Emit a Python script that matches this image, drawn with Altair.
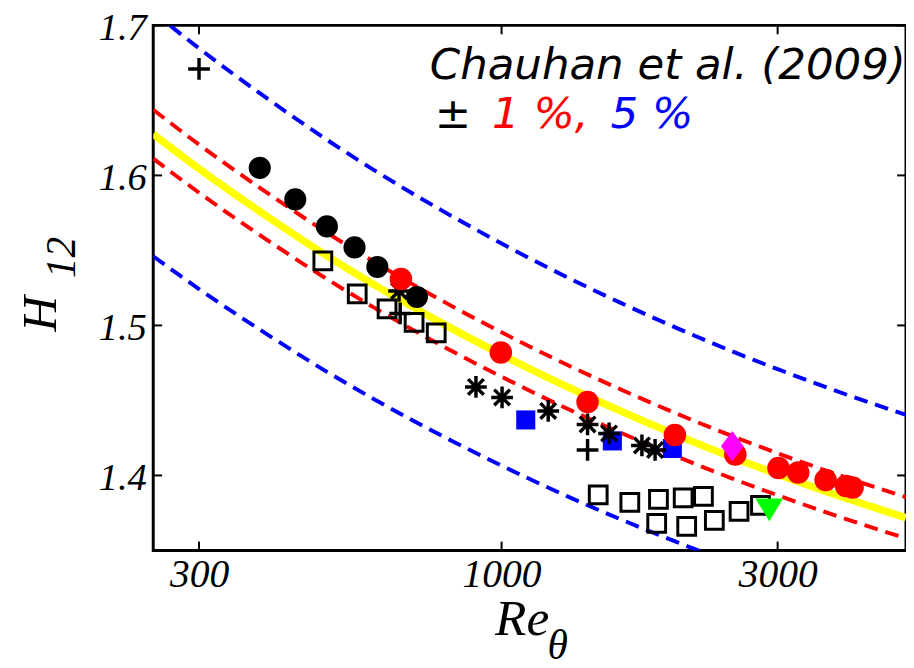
import altair as alt
import pandas as pd

# ---- data ----
# Chauhan et al. (2009) correlation (yellow curve)
curve_re = [250, 300, 400, 500, 600, 800, 1000, 1300, 1600, 2000, 2500, 3000, 4000, 5000]
curve_h = [1.6275, 1.6045, 1.5708, 1.5462, 1.5275, 1.5002, 1.4806, 1.4590, 1.4432,
           1.4272, 1.4122, 1.4008, 1.3839, 1.3718]
band_inner = 0.01   # +-1 %
band_outer = 0.05   # +-5 %

circ_black_re = [382, 440, 499, 557, 610, 714]
circ_black_h = [1.605, 1.584, 1.566, 1.552, 1.539, 1.519]

circ_red_re = [670, 997, 1408, 1993, 2535, 3010, 3256, 3631, 3939, 4042]
circ_red_h = [1.531, 1.482, 1.449, 1.427, 1.414, 1.405, 1.402, 1.397, 1.393, 1.392]

sq_open_re = [491, 563, 634, 706, 771, 1469, 1666, 1867, 2060, 2233, 1854, 2089, 2332, 2573, 2802]
sq_open_h = [1.543, 1.521, 1.511, 1.502, 1.495, 1.387, 1.382, 1.384, 1.385, 1.386, 1.368, 1.366, 1.370, 1.376, 1.380]

sq_blue_re = [1101, 1554, 1973]
sq_blue_h = [1.437, 1.423, 1.418]

star_re = [665, 903, 1002, 1204, 1408, 1534, 1748, 1842]
star_h = [1.523, 1.459, 1.452, 1.443, 1.434, 1.428, 1.420, 1.417]

plus_re = [300, 668, 1408]
plus_h = [1.671, 1.508, 1.417]

diamond_re = [2505]
diamond_h = [1.4195]

tri_re = [2902]
tri_h = [1.377]

x_ticks = [300, 1000, 3000]
y_ticks = [1.4, 1.5, 1.6, 1.7]

# ---- chart ----
W, H = 762, 531.5
TICK = 9
xs = alt.Scale(type="log", domain=[250, 5000], nice=False)
ys = alt.Scale(domain=[1.35, 1.7], nice=False, zero=False)

def df(re, h):
    return pd.DataFrame({"Re": re, "H": h})

lab_common = dict(labelFont="Liberation Serif", labelFontStyle="italic",
                  labelColor="black", labelFlush=False,
                  labelOverlap=False, labelBound=False, tickSize=0,
                  domain=False, grid=False, title=None)

ax_bottom = alt.Axis(orient="bottom", values=x_ticks, format="d", labelPadding=4,
                     labelFontSize=40, **lab_common)
ax_left = alt.Axis(orient="left", values=y_ticks, format=".1f", labelPadding=7,
                   labelFontSize=39, labelOffset=2, **lab_common)

def line(re, h, color, width, dash=None, axes=None):
    kw = dict(color=color, strokeWidth=width, clip=True, interpolate="monotone")
    if dash:
        kw["strokeDash"] = dash
        kw["strokeCap"] = "butt"
    ax_x, ax_y = axes if axes else (None, None)
    return alt.Chart(df(re, h)).mark_line(**kw).encode(
        x=alt.X("Re:Q", scale=xs, axis=ax_x),
        y=alt.Y("H:Q", scale=ys, axis=ax_y),
        order="Re:Q",
    )

def pts(re, h, **mk):
    return alt.Chart(df(re, h)).mark_point(opacity=1, **mk).encode(
        x=alt.X("Re:Q", scale=xs, axis=None),
        y=alt.Y("H:Q", scale=ys, axis=None),
    )

up5 = [v * (1 + band_outer) for v in curve_h]
lo5 = [v * (1 - band_outer) for v in curve_h]
up1 = [v * (1 + band_inner) for v in curve_h]
lo1 = [v * (1 - band_inner) for v in curve_h]

dash = [14, 8]
layers = [
    line(curve_re, up5, "#0000FF", 4, dash),
    line(curve_re, lo5, "#0000FF", 4, dash),
    line(curve_re, up1, "#FF0000", 4, dash),
    line(curve_re, lo1, "#FF0000", 4, dash),
    line(curve_re, curve_h, "#FFFF00", 7.5, axes=(ax_bottom, ax_left)),
]

# inward ticks on all four sides
xt = pd.DataFrame({"Re": x_ticks})
yt = pd.DataFrame({"H": y_ticks})
rule_kw = dict(color="black", strokeWidth=2)
layers += [
    alt.Chart(xt).mark_rule(**rule_kw).encode(
        x=alt.X("Re:Q", scale=xs, axis=None), y=alt.value(H - TICK), y2=alt.value(H)),
    alt.Chart(xt).mark_rule(**rule_kw).encode(
        x=alt.X("Re:Q", scale=xs, axis=None), y=alt.value(0), y2=alt.value(TICK)),
    alt.Chart(yt).mark_rule(**rule_kw).encode(
        y=alt.Y("H:Q", scale=ys, axis=None), x=alt.value(0), x2=alt.value(TICK)),
    alt.Chart(yt).mark_rule(**rule_kw).encode(
        y=alt.Y("H:Q", scale=ys, axis=None), x=alt.value(W - TICK), x2=alt.value(W)),
]

asterisk = "M-1,0L1,0M0,-1L0,1M-0.72,-0.72L0.72,0.72M-0.72,0.72L0.72,-0.72"
plus = "M-1,0L1,0M0,-1L0,1"
diamond = "M0,-1L0.74,0L0,1L-0.74,0Z"
tri_down = "M-1,-0.82L1,-0.82L0,0.82Z"

layers += [
    pts(sq_open_re, sq_open_h, shape="square", filled=False, size=324,
        strokeWidth=3, color="black"),
    pts(sq_blue_re, sq_blue_h, shape="square", filled=True, size=372,
        color="#0000FF"),
    pts(star_re, star_h, shape=asterisk, filled=False, size=484,
        strokeWidth=3.5, color="black"),
    pts(circ_black_re, circ_black_h, shape="circle", filled=True, size=500,
        color="black"),
    pts(plus_re, plus_h, shape=plus, filled=False, size=484,
        strokeWidth=3.5, color="black"),
    pts(circ_red_re, circ_red_h, shape="circle", filled=True, size=520,
        color="#FF0000"),
    pts(diamond_re, diamond_h, shape=diamond, filled=True, size=961,
        color="#FF00FF"),
    pts(tri_re, tri_h, shape=tri_down, filled=True, size=784,
        color="#00FF00"),
]

def txt(s, x, y, size, font, color="black", angle=0):
    return alt.Chart(pd.DataFrame({"t": [s]})).mark_text(
        font=font, fontStyle="italic", fontSize=size, color=color,
        align="left", baseline="alphabetic", angle=angle,
    ).encode(text="t:N", x=alt.value(x), y=alt.value(y))

serif = "Liberation Serif"
sans = "DejaVu Sans"
layers += [
    txt("Chauhan et al. (2009)", 280, 54, 44, sans),
    txt("\u00b1", 285, 104, 44, sans),
    txt("1 %,", 343, 104, 44, sans, "#FF0000"),
    txt("5 %", 463, 104, 44, sans, "#0000FF"),
    txt("Re", 346, 617, 52, serif),
    txt("\u03b8", 399, 641, 42, serif),
    txt("H", -98, 310, 50, serif, angle=270),
    txt("12", -79, 256, 42, serif, angle=270),
]

chart = alt.layer(*layers).resolve_axis(x="independent", y="independent").properties(
    width=W, height=H,
    autosize=alt.AutoSizeParams(type="none"),
    padding={"left": 147, "top": 13.5, "right": 0, "bottom": 125},
).configure(background="white").configure_view(stroke="black", strokeWidth=3)

chart.save("out.html", embed_options={"renderer": "svg", "actions": False})
